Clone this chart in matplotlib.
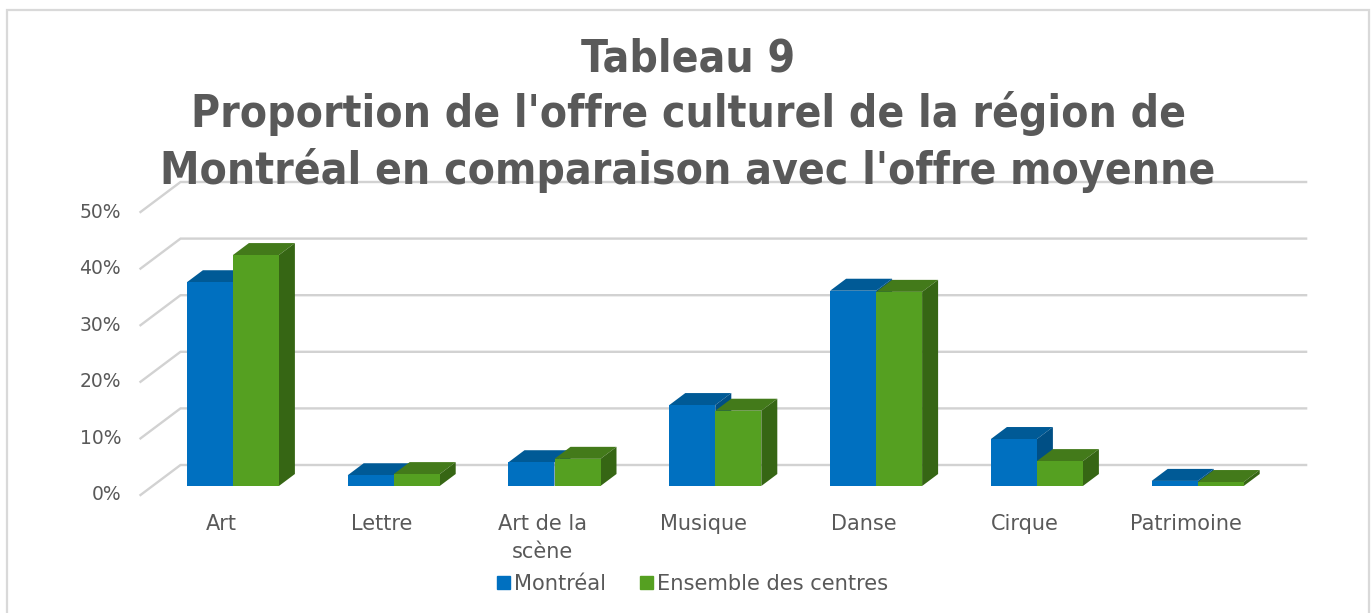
import matplotlib
matplotlib.use("Agg")
import matplotlib.pyplot as plt
import matplotlib.patches as mpatches
from matplotlib.transforms import ScaledTranslation

categories = ["Art", "Lettre", "Art de la\nscène", "Musique", "Danse", "Cirque", "Patrimoine"]
montreal = [36.0, 1.9, 4.2, 14.3, 34.5, 8.3, 0.9]
ensemble = [40.8, 2.1, 4.8, 13.3, 34.3, 4.4, 0.7]
y_ticks = [0, 10, 20, 30, 40, 50]
y_labels = ["0%", "10%", "20%", "30%", "40%", "50%"]

W, H = 1372, 613
GREY = "#595959"
GRID = "#d2d2d2"

# faux 3D: depth of the floor, in data units
DX = 40 / 160.8
DY = 30 / 5.66
BAR_W = 46 / 160.8
BAR_FRONT = 0.3   # bars start at 30% of the floor depth
BAR_DEPTH = 0.4

fig = plt.figure(figsize=(W / 100, H / 100), dpi=100)
ax = fig.add_axes([140.5 / W, 1 - 495 / H, 1125.6 / W, 283 / H])
ax.set_xlim(-0.5, 6.5)
ax.set_ylim(0, 50)
ax.patch.set_visible(False)
for s in ax.spines.values():
    s.set_visible(False)

# cadre
fig.add_artist(mpatches.Rectangle((7 / W, -0.05), 1362 / W, 1.05 - 10 / H,
                                  transform=fig.transFigure, fill=False,
                                  edgecolor="#d9d9d9", linewidth=1.6))

# back wall and left wall lines
for v in y_ticks:
    ax.plot([-0.5, -0.5 + DX, 6.5 + DX], [v, v + DY, v + DY], color=GRID,
            lw=1.7, clip_on=False, zorder=1, solid_joinstyle="miter")


def draw_bar(x, value, front, top, side):
    x0 = x + BAR_FRONT * DX
    y0 = BAR_FRONT * DY
    dx = BAR_DEPTH * DX
    dy = BAR_DEPTH * DY
    # top and side first, front face over them
    ax.fill([x0, x0 + BAR_W, x0 + BAR_W + dx, x0 + dx],
            [y0 + value, y0 + value, y0 + value + dy, y0 + value + dy],
            color=top, lw=0, clip_on=False, zorder=3)
    ax.fill([x0 + BAR_W, x0 + BAR_W + dx, x0 + BAR_W + dx, x0 + BAR_W],
            [y0, y0 + dy, y0 + value + dy, y0 + value],
            color=side, lw=0, clip_on=False, zorder=3)
    ax.bar(x0, value, BAR_W, bottom=y0, align="edge", color=front, lw=0,
           clip_on=False, zorder=3)


for i in range(len(categories)):
    draw_bar(i - BAR_W, montreal[i], "#0070c0", "#005a96", "#004f85")
    draw_bar(i, ensemble[i], "#55a021", "#437a1a", "#366614")

ax.set_xticks(range(len(categories)))
ax.set_xticklabels(categories, linespacing=1.5)
ax.set_yticks(y_ticks)
ax.set_yticklabels(y_labels)
ax.tick_params(axis="x", length=0, pad=14, labelsize=15, labelcolor=GREY)
ax.tick_params(axis="y", length=0, pad=14, labelsize=13.5, labelcolor=GREY)
# y labels sit a little above their lines
up = ScaledTranslation(0, 2 / 100, fig.dpi_scale_trans)
for t in ax.get_yticklabels():
    t.set_transform(t.get_transform() + up)

fig.text(688 / W, 1 - 115 / H,
         "Tableau 9\nProportion de l'offre culturel de la région de\n"
         "Montréal en comparaison avec l'offre moyenne",
         ha="center", va="center", fontsize=31.8, fontweight="bold",
         stretch="condensed", color=GREY, family="DejaVu Sans",
         linespacing=1.31, zorder=10)

handles = [mpatches.Patch(color="#0070c0", label="Montréal"),
           mpatches.Patch(color="#55a021", label="Ensemble des centres")]
fig.legend(handles=handles, ncol=2, loc="center", frameon=False,
           bbox_to_anchor=(692.5 / W, 1 - 584 / H), handlelength=0.62,
           handleheight=0.62, handletextpad=0.2, columnspacing=1.6,
           labelcolor=GREY, prop={"size": 15.1})

fig.savefig("out.png", dpi=100)
plt.close(fig)
